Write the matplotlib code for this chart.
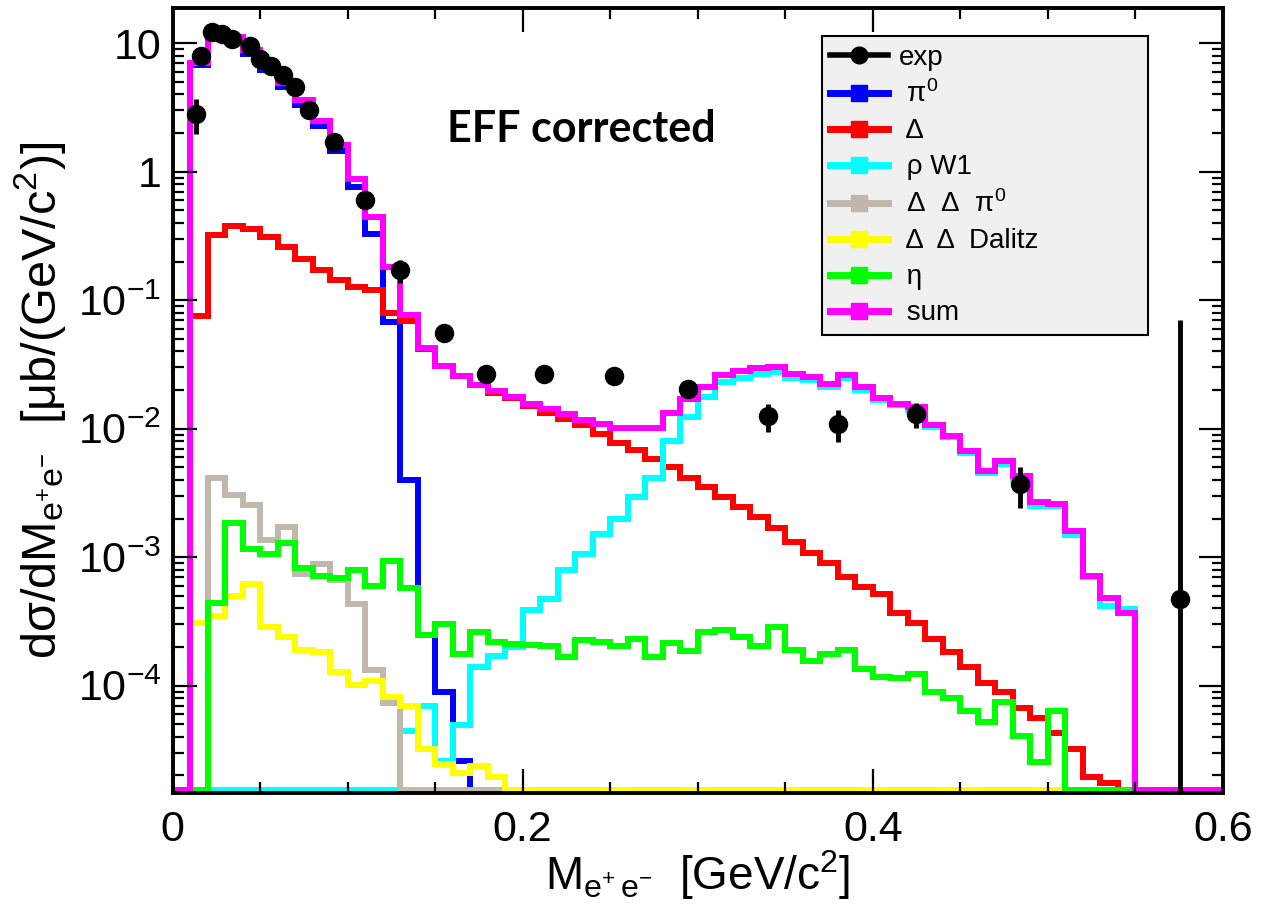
import numpy as np
import matplotlib.pyplot as plt
from matplotlib.lines import Line2D
from matplotlib.ticker import FixedLocator, FuncFormatter, NullFormatter, MultipleLocator

plt.rcParams['font.family'] = ['Liberation Sans', 'DejaVu Sans']
plt.rcParams['mathtext.fontset'] = 'custom'
plt.rcParams['mathtext.rm'] = 'Liberation Sans'
plt.rcParams['mathtext.it'] = 'Liberation Sans:italic'
plt.rcParams['mathtext.bf'] = 'Liberation Sans:bold'

# histogram binning: 60 bins of 10 MeV from 0 to 0.6 GeV/c^2
bin_edges = np.linspace(0.0, 0.6, 61)

# simulated contributions (per bin)
pi0 = [0, 6.8, 11.5, 10.5, 8.3, 6.2, 4.6, 3.32, 2.26, 1.45,
       0.76, 0.33, 0.068, 0.0040, 2.5e-4, 8.95e-5, 2.57e-5, 0, 0, 0,
       0, 0, 0, 0, 0, 0, 0, 0, 0, 0,
       0, 0, 0, 0, 0, 0, 0, 0, 0, 0,
       0, 0, 0, 0, 0, 0, 0, 0, 0, 0,
       0, 0, 0, 0, 0, 0, 0, 0, 0, 0]
delta = [0, 0.0748, 0.319, 0.381, 0.36, 0.31, 0.26, 0.211, 0.171, 0.1435,
         0.1276, 0.12, 0.0794, 0.069, 0.042, 0.0305, 0.0255, 0.0217, 0.0191, 0.0172,
         0.0151, 0.0132, 0.0118, 0.0106, 0.0091, 0.0078, 0.0068, 0.00585, 0.00505, 0.0041,
         0.00353, 0.00296, 0.00245, 0.00205, 0.00168, 0.00131, 0.00108, 9.0e-4, 7.0e-4, 5.9e-4,
         5.2e-4, 3.7e-4, 3.1e-4, 2.31e-4, 1.82e-4, 1.4e-4, 1.04e-4, 8.9e-5, 6.7e-5, 5.6e-5,
         4.3e-5, 3.2e-5, 1.94e-5, 1.75e-5, 0, 0, 0, 0, 0, 0]
rho_w1 = [0, 0, 0, 0, 0, 0, 0, 0, 0, 0,
          0, 0, 0, 4.4e-5, 6.9e-5, 2.6e-5, 4.95e-5, 1.4e-4, 1.7e-4, 2.0e-4,
          3.9e-4, 4.7e-4, 8.0e-4, 1.05e-3, 1.52e-3, 2.0e-3, 2.96e-3, 4.17e-3, 8.0e-3, 0.0124,
          0.0177, 0.0233, 0.025, 0.0268, 0.0275, 0.025, 0.0241, 0.0212, 0.025, 0.020,
          0.0166, 0.0153, 0.014, 0.0104, 0.0086, 0.0065, 0.0045, 0.0053, 0.0041, 0.0025,
          0.0025, 0.0015, 7.0e-4, 4.2e-4, 3.95e-4, 0, 0, 0, 0, 0]
dd_pi0 = [0, 0, 4.1e-3, 3.05e-3, 2.55e-3, 1.37e-3, 1.73e-3, 7.4e-4, 8.8e-4, 6.7e-4,
          4.3e-4, 1.32e-4, 7.3e-5, 0, 0, 0, 0, 0, 0, 0,
          0, 0, 0, 0, 0, 0, 0, 0, 0, 0,
          0, 0, 0, 0, 0, 0, 0, 0, 0, 0,
          0, 0, 0, 0, 0, 0, 0, 0, 0, 0,
          0, 0, 0, 0, 0, 0, 0, 0, 0, 0]
dd_dalitz = [0, 3.1e-4, 3.5e-4, 5.0e-4, 6.2e-4, 2.85e-4, 2.38e-4, 1.88e-4, 1.82e-4, 1.28e-4,
             1.01e-4, 1.09e-4, 8.2e-5, 6.9e-5, 3.2e-5, 2.45e-5, 2.1e-5, 2.38e-5, 1.93e-5, 0,
             0, 0, 0, 0, 0, 0, 0, 0, 0, 0,
             0, 0, 0, 0, 0, 0, 0, 0, 0, 0,
             0, 0, 0, 0, 0, 0, 0, 0, 0, 0,
             0, 0, 0, 0, 0, 0, 0, 0, 0, 0]
eta = [0, 0, 4.4e-4, 1.84e-3, 1.15e-3, 1.05e-3, 1.29e-3, 8.3e-4, 7.1e-4, 6.9e-4,
       8.0e-4, 6.0e-4, 9.3e-4, 5.8e-4, 2.5e-4, 3.0e-4, 1.77e-4, 2.6e-4, 2.18e-4, 2.1e-4,
       2.07e-4, 2.04e-4, 1.67e-4, 2.25e-4, 2.2e-4, 2.03e-4, 2.31e-4, 1.67e-4, 2.16e-4, 1.85e-4,
       2.63e-4, 2.73e-4, 2.38e-4, 2.04e-4, 2.85e-4, 1.91e-4, 1.55e-4, 1.77e-4, 1.9e-4, 1.36e-4,
       1.17e-4, 1.15e-4, 1.24e-4, 8.95e-5, 8.05e-5, 6.3e-5, 5.25e-5, 7.5e-5, 4.03e-5, 2.55e-5,
       6.36e-5, 0, 0, 0, 0, 0, 0, 0, 0, 0]
total = [0, 7.0, 12.2, 11.2, 8.8, 6.7, 4.9, 3.6, 2.47, 1.61,
         0.88, 0.443, 0.182, 0.077, 0.0426, 0.0308, 0.0258, 0.0219, 0.0195, 0.0175,
         0.0157, 0.0142, 0.0130, 0.0117, 0.0108, 0.0101, 0.0101, 0.0101, 0.0132, 0.017,
         0.0212, 0.0262, 0.0281, 0.0298, 0.0304, 0.0268, 0.0251, 0.0224, 0.0262, 0.0212,
         0.0173, 0.0156, 0.0147, 0.0106, 0.0087, 0.0067, 0.0047, 0.0056, 0.0043, 0.0027,
         0.0026, 0.0016, 7.1e-4, 4.85e-4, 3.7e-4, 0, 0, 0, 0, 0]

# measured points
exp_x = [0.0135, 0.0162, 0.0222, 0.028, 0.034, 0.044, 0.050, 0.056, 0.063, 0.070,
         0.078, 0.092, 0.110, 0.130, 0.155, 0.179, 0.212, 0.252, 0.2946, 0.340,
         0.380, 0.425, 0.484, 0.5756]
exp_y = [2.8, 8.0, 12.2, 11.9, 10.7, 9.5, 7.5, 6.7, 5.7, 4.6,
         3.05, 1.7, 0.6, 0.172, 0.0556, 0.0268, 0.0265, 0.0255, 0.0203, 0.0125,
         0.0109, 0.013, 0.0037, 4.7e-4]
exp_err = [0.85, 0.4, 0.5, 0.5, 0.4, 0.4, 0.3, 0.25, 0.2, 0.2,
           0.12, 0.07, 0.03, 0.035, 0.003, 0.0035, 0.002, 0.0015, 0.0025, 0.003,
           0.003, 0.0029, 0.0013, 0.07]

series = [
    (pi0, '#0000ff', ' π$^{\\mathregular{0}}$'),
    (delta, '#ff0000', ' Δ'),
    (rho_w1, '#00ffff', ' ρ W1'),
    (dd_pi0, '#c1b8ac', ' Δ  Δ  π$^{\\mathregular{0}}$'),
    (dd_dalitz, '#ffff00', ' Δ  Δ  Dalitz'),
    (eta, '#00ff00', ' η'),
    (total, '#ff00ff', ' sum'),
]

y_min, y_max = 1.46e-5, 18.8
floor = 1.55e-5  # empty bins are drawn on the frame bottom, as ROOT does

fig = plt.figure(figsize=(12.63, 9.13), dpi=100)
ax = fig.add_axes([0.1367, 0.1314, 0.8314, 0.8598])

for vals, col, lab in series:
    v = np.asarray(vals, dtype=float)
    v = np.where(v > 0, v, floor)
    ax.stairs(v, bin_edges, color=col, linewidth=4.3, baseline=None)

ey = np.asarray(exp_y)
ee = np.asarray(exp_err)
err_lo = np.minimum(ee, ey - y_min * 0.5)
ax.errorbar(exp_x, ey, yerr=[err_lo, ee], fmt='o', color='black', ms=13,
            elinewidth=3.5, capsize=0, zorder=5)

ax.set_yscale('log')
ax.set_xlim(0, 0.6)
ax.set_ylim(y_min, y_max)

ax.xaxis.set_major_locator(FixedLocator([0, 0.2, 0.4, 0.6]))
ax.xaxis.set_minor_locator(MultipleLocator(0.05))
ax.xaxis.set_major_formatter(FuncFormatter(lambda v, p: '0' if v == 0 else f'{v:.1f}'))

def ylab(v, pos):
    if v >= 10:
        return '10'
    if v >= 1:
        return '1'
    return r'$\mathregular{10^{%d}}$' % round(np.log10(v))

ax.yaxis.set_major_locator(FixedLocator([1e-4, 1e-3, 1e-2, 1e-1, 1, 10]))
ax.yaxis.set_major_formatter(FuncFormatter(ylab))
minors = [m * 10.0 ** e for e in range(-5, 2) for m in range(2, 10)]
ax.yaxis.set_minor_locator(FixedLocator(minors))
ax.yaxis.set_minor_formatter(NullFormatter())

ax.tick_params(which='both', direction='in', top=True, right=True, width=1.6,
               labelsize=31, colors='black')
ax.tick_params(which='major', length=17)
ax.tick_params(which='minor', length=8)
ax.tick_params(axis='x', which='major', pad=12)
ax.tick_params(axis='y', which='major', pad=8)
for sp in ax.spines.values():
    sp.set_linewidth(2.8)

ax.set_xlabel('M$_{\\mathregular{e^{+}\\,e^{-}}}$  [GeV/c$^{\\mathregular{2}}$]', fontsize=33)
ax.xaxis.set_label_coords(0.5, -0.07)
ax.set_ylabel('dσ/dM$_{\\mathregular{e^{+}e^{-}}}$  [μb/(GeV/c$^{\\mathregular{2}}$)]', fontsize=35)
ax.yaxis.set_label_coords(-0.1, 0.5)

ax.text(0.261, 0.829, 'EFF corrected', transform=ax.transAxes, fontsize=31,
        fontweight='bold', family='Lato', va='baseline')

handles = [Line2D([], [], color='black', lw=4, marker='o', ms=12)]
labels = ['exp']
for vals, col, lab in series:
    handles.append(Line2D([], [], color=col, lw=5, marker='s', ms=11))
    labels.append(lab)
leg = ax.legend(handles, labels, loc='upper left', bbox_to_anchor=(0.618, 0.5864, 0.311, 0.3776),
                mode='expand', fontsize=20, frameon=True, fancybox=False, framealpha=1,
                handlelength=2.1, handletextpad=0.4, labelspacing=0.36, borderpad=0.3,
                borderaxespad=0)
leg.get_frame().set_facecolor('#f0f0f0')
leg.get_frame().set_edgecolor('black')
leg.get_frame().set_linewidth(1.5)
leg.set_zorder(10)

fig.savefig('out.png', dpi=100)
